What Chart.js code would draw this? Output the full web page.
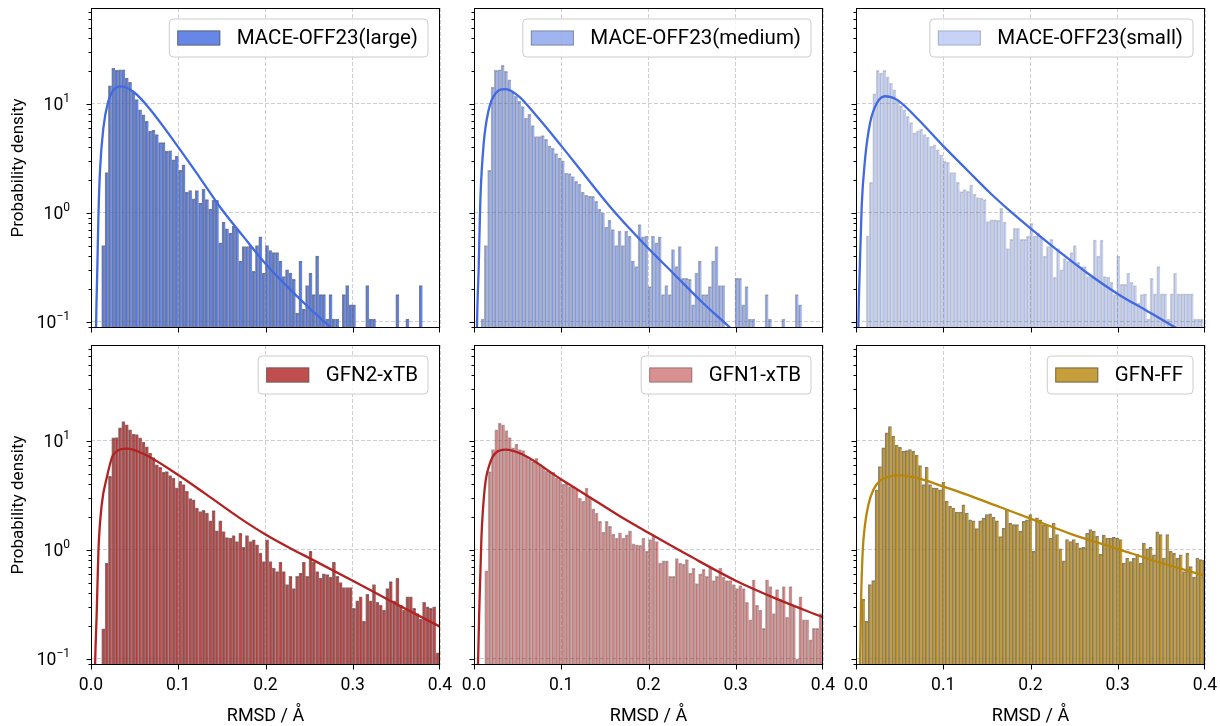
<!DOCTYPE html>
<html>
<head>
<meta charset="utf-8">
<title>RMSD distributions</title>
<script src="https://cdn.jsdelivr.net/npm/chart.js@4.4.1/dist/chart.umd.min.js"></script>
<style>
  html, body { margin: 0; padding: 0; background: #fff; }
  #fig { position: relative; width: 1220px; height: 726px; overflow: hidden; }
  #fig canvas { position: absolute; }
</style>
</head>
<body>
<div id="fig"></div>
<script>
// ---- values ----
const xTicks = [0, 0.1, 0.2, 0.3, 0.4];
const yDecades = [0.1, 1, 10];
const yMinorTicks = [0.09, 0.2, 0.3, 0.4, 0.5, 0.6, 0.7, 0.8, 0.9, 2, 3, 4, 5, 6, 7, 8, 9, 20, 30, 40, 50, 60, 70];
const yMin = 0.0876, yMax = 75.5;
const binWidth = 0.00383;

// MACE-OFF23(large)
const largeStart = 0.0123;
const largeBars = [0.50, 2.34, 14.6, 21.2, 20.2, 20.5, 20.5, 17.2, 15.7, 12.7, 10.9, 8.8, 7.9, 6.9, 5.6, 5.7, 5.2, 4.4, 4.4, 3.66,
  3.7, 3.06, 3.3, 2.45, 2.75, 1.54, 1.6, 1.34, 1.6, 1.22, 1.65, 1.32, 1.08, 1.3, 1.3, 0.53, 0.82, 0.71, 0.65, 0.75,
  0.71, 0.36, 0.49, 0.49, 0.5, 0.29, 0.5, 0.6, 0.28, 0.5, 0.45, 0.43, 0.43, 0.36, 0.26, 0.30, 0.28, 0.245, 0.12, 0.36,
  0.13, 0.215, 0.28, 0.177, 0.40, 0.177, 0.177, 0.106, 0.177, 0.106, 0.106, null, 0.177, 0.215, 0.143, 0.143, null, null, null, 0.215,
  0.106, 0.106, null, null, null, null, null, null, 0.177, null, null, 0.106, null, null, null, 0.215];
const largeCurveX = [0.005, 0.0058, 0.0073, 0.0085, 0.0104, 0.0142, 0.0199, 0.0256, 0.035, 0.05, 0.0676, 0.1, 0.125, 0.15, 0.175, 0.2, 0.225, 0.25, 0.2755, 0.3];
const largeCurveY = [0.02, 0.0876, 0.32, 0.925, 2.5, 6.0, 10.6, 13.3, 14.4, 12.6, 8.9, 4.0, 2.08, 1.07, 0.6, 0.34, 0.21, 0.134, 0.0876, 0.058];

// MACE-OFF23(medium)
const mediumStart = 0.0080;
const mediumBars = [0.106, 0.50, 2.45, 14.2, 20.2, 20.5, 22.5, 19.8, 16.6, 12.7, 11.7, 10.5, 9.4, 7.4, 8.0, 6.3, 5.0, 5.0, 5.1, 4.7,
  4.1, 3.9, 3.48, 3.17, 3.0, 2.3, 2.28, 2.15, 1.94, 1.83, 1.55, 1.45, 1.41, 1.41, 1.27, 1.08, 1.0, 0.74, 0.85, 0.70,
  0.50, 0.68, 0.50, 0.68, 0.61, 0.36, 0.32, 0.78, 0.60, 0.61, 0.21, 0.61, 0.53, 0.60, 0.177, 0.215, 0.177, 0.46, 0.32, 0.49,
  0.25, 0.25, 0.245, 0.143, 0.28, 0.36, 0.177, 0.177, 0.21, 0.36, 0.49, 0.215, 0.215, null, null, null, 0.25, 0.25, 0.143, 0.21,
  0.106, 0.106, null, null, null, 0.177, 0.106, null, null, null, 0.106, null, null, null, 0.177, 0.143];
const mediumCurveX = [0.0025, 0.0034, 0.0054, 0.0073, 0.0111, 0.0169, 0.0246, 0.036, 0.0514, 0.0706, 0.1005, 0.128, 0.155, 0.178, 0.2, 0.23, 0.26, 0.297, 0.32];
const mediumCurveY = [0.02, 0.0876, 0.32, 1.32, 4.3, 8.8, 12.4, 13.6, 11.7, 7.9, 4.06, 2.15, 1.16, 0.72, 0.47, 0.27, 0.155, 0.083, 0.055];

// MACE-OFF23(small)
const smallStart = 0.0115;
const smallBars = [0.615, 1.90, 12.3, 20.2, 19.1, 20.2, 17.6, 15.5, 13.4, 10.9, 9.6, 8.8, 7.65, 6.7, 5.4, 5.65, 5.85, 5.2, 4.95, 4.06,
  4.2, 3.78, 3.4, 2.96, 2.9, 2.34, 2.34, 1.9, 1.56, 1.63, 1.57, 1.8, 1.48, 1.38, 1.36, 1.32, 0.83, 0.86, 0.86, 0.85,
  1.1, 0.82, 0.47, 0.57, 0.72, 0.72, 0.57, 0.57, 0.61, 0.80, 0.61, 0.65, 0.60, 0.40, 0.49, 0.57, 0.256, 0.47, 0.30, 0.38,
  0.36, 0.43, 0.50, 0.35, 0.32, 0.32, 0.26, 0.256, 0.56, 0.40, 0.56, 0.26, 0.256, 0.23, 0.177, 0.40, 0.22, 0.22, 0.28, 0.23,
  0.215, 0.148, 0.177, 0.18, 0.106, 0.25, 0.18, 0.32, 0.18, 0.18, 0.106, 0.18, 0.28, 0.18, 0.18, 0.18, 0.18, 0.18, 0.106, 0.106, 0.106];
const smallCurveX = [0.0018, 0.0027, 0.0046, 0.0065, 0.0103, 0.0161, 0.0238, 0.0333, 0.0467, 0.0697, 0.1004, 0.127, 0.154, 0.177, 0.2, 0.2345, 0.265, 0.3, 0.334, 0.3667, 0.4];
const smallCurveY = [0.02, 0.0876, 0.37, 1.14, 3.06, 6.65, 10.1, 11.7, 10.9, 7.4, 4.06, 2.48, 1.51, 1.03, 0.72, 0.43, 0.28, 0.18, 0.125, 0.0876, 0.06];

// GFN2-xTB
const gfn2Start = 0.0123;
const gfn2Bars = [0.188, 0.755, 4.7, 10.6, 10.7, 13.1, 15.0, 14.0, 12.6, 11.5, 11.4, 10.6, 9.7, 8.8, 7.7, 7.0, 6.0, 5.7, 5.15, 5.2,
  4.8, 4.55, 3.7, 4.24, 3.95, 3.43, 2.94, 2.87, 2.41, 2.24, 2.3, 2.17, 1.84, 2.28, 1.49, 1.84, 1.47, 1.29, 1.28, 1.35,
  1.19, 1.41, 1.05, 1.35, 1.19, 1.23, 1.11, 0.93, 0.78, 1.23, 0.78, 0.68, 0.63, 0.77, 0.63, 0.48, 0.57, 0.44, 0.57, 0.61,
  0.77, 0.57, 0.97, 0.77, 0.63, 0.55, 0.60, 0.59, 0.56, 0.77, 0.57, 0.50, 0.45, 0.45, 0.45, 0.29, 0.34, 0.37, 0.22, 0.39,
  0.34, 0.48, 0.33, 0.31, 0.28, 0.44, 0.51, 0.34, 0.55, 0.31, 0.28, 0.37, 0.37, 0.29, 0.26, 0.23, 0.33, 0.30, 0.29, 0.30, 0.113, 0.25];
const gfn2CurveX = [0.0035, 0.0047, 0.0066, 0.0085, 0.0123, 0.018, 0.0256, 0.041, 0.06, 0.1, 0.1325, 0.1706, 0.2, 0.2316, 0.25, 0.3, 0.346, 0.3994];
const gfn2CurveY = [0.02, 0.088, 0.27, 0.97, 2.59, 4.54, 7.45, 8.45, 7.6, 4.85, 3.2, 1.95, 1.38, 1.0, 0.84, 0.52, 0.33, 0.198];

// GFN1-xTB
const gfn1Start = 0.0123;
const gfn1Bars = [0.64, 5.2, 8.3, 12.6, 14.5, 14.0, 12.4, 10.7, 8.6, 9.3, 8.3, 8.1, 7.2, 6.7, 6.45, 6.9, 6.1, 5.7, 5.3, 5.15,
  5.15, 4.55, 4.4, 4.0, 4.1, 3.8, 3.8, 3.55, 2.98, 2.8, 3.68, 3.0, 2.37, 2.17, 1.82, 1.45, 1.82, 1.64, 1.39, 1.28,
  1.43, 1.28, 1.37, 1.49, 1.13, 1.11, 1.1, 1.28, 0.97, 1.24, 1.37, 1.19, 0.755, 0.79, 0.79, 0.57, 0.57, 0.83, 0.755, 0.74,
  0.81, 0.61, 0.68, 0.49, 0.60, 0.66, 0.57, 0.68, 0.52, 0.57, 0.68, 0.56, 0.52, 0.52, 0.48, 0.44, 0.47, 0.44, 0.33, 0.228,
  0.53, 0.31, 0.28, 0.19, 0.53, 0.46, 0.26, 0.43, 0.35, 0.46, 0.24, 0.46, 0.31, 0.1, 0.37, 0.228, 0.228, 0.149, 0.19, 0.19, 0.26, 0.26];
const gfn1CurveX = [0.0035, 0.0046, 0.0062, 0.0085, 0.0123, 0.0177, 0.0246, 0.0361, 0.0552, 0.1005, 0.128, 0.1663, 0.2, 0.249, 0.3, 0.3448, 0.4];
const gfn1CurveY = [0.02, 0.088, 0.31, 1.28, 3.68, 6.0, 7.7, 8.27, 7.5, 4.39, 3.2, 2.05, 1.43, 0.86, 0.52, 0.36, 0.24];

// GFN-FF
const ffStart = 0.0065;
const ffBars = [0.35, 0.22, 0.48, 0.52, 3.55, 5.8, 8.6, 11.8, 13.5, 11.0, 9.1, 8.7, 8.0, 8.1, 8.3, 8.0, 7.4, 5.9, 3.95, 5.7,
  3.95, 3.7, 3.68, 3.55, 4.17, 2.78, 2.5, 2.41, 2.21, 2.21, 2.58, 2.17, 1.88, 1.84, 1.56, 1.84, 1.95, 2.1, 2.13, 1.98,
  1.84, 1.32, 1.58, 2.33, 1.75, 1.7, 1.7, 1.48, 1.82, 1.88, 2.1, 0.97, 1.96, 1.88, 1.69, 1.69, 1.28, 1.76, 1.38, 1.02,
  0.79, 1.24, 1.19, 1.24, 1.15, 1.04, 1.05, 1.42, 1.53, 1.48, 1.33, 0.91, 1.36, 1.28, 1.28, 1.30, 1.28, 1.24, 0.755, 0.84,
  0.78, 0.84, 0.91, 0.755, 1.15, 1.02, 1.05, 0.90, 1.46, 1.38, 0.84, 1.38, 0.97, 0.93, 0.84, 0.90, 0.63, 0.93, 0.70, 0.56, 0.84, 0.81, 0.8];
const ffCurveX = [0.0035, 0.0046, 0.0057, 0.0077, 0.0103, 0.0142, 0.0199, 0.0276, 0.039, 0.0506, 0.0698, 0.0996, 0.127, 0.1655, 0.2, 0.246, 0.2997, 0.349, 0.3992];
const ffCurveY = [0.02, 0.088, 0.31, 0.97, 1.69, 2.59, 3.55, 4.3, 4.7, 4.8, 4.55, 3.81, 3.2, 2.45, 1.93, 1.4, 1.02, 0.76, 0.58];

const labels = ['MACE-OFF23(large)', 'MACE-OFF23(medium)', 'MACE-OFF23(small)', 'GFN2-xTB', 'GFN1-xTB', 'GFN-FF'];

// ---- layout ----
const colLeft = [91, 474, 856];
const rowTop = [8, 345];
const areaW = 349, areaH = 320;
const yAxisW = 90, xAxisH = 62, padTop = 8, padRight = 30;
const gridColor = '#cfcfcf';

Chart.defaults.font.family = 'Roboto, "DejaVu Sans", sans-serif';
Chart.defaults.color = '#000';

const panels = [
  {label: labels[0], start: largeStart, bars: largeBars, cx: largeCurveX, cy: largeCurveY, fill: 'rgba(65,105,225,0.8)', edge: 'rgba(95,95,95,0.8)', line: '#4169e1'},
  {label: labels[1], start: mediumStart, bars: mediumBars, cx: mediumCurveX, cy: mediumCurveY, fill: 'rgba(65,105,225,0.5)', edge: 'rgba(95,95,95,0.5)', line: '#4169e1'},
  {label: labels[2], start: smallStart, bars: smallBars, cx: smallCurveX, cy: smallCurveY, fill: 'rgba(65,105,225,0.3)', edge: 'rgba(95,95,95,0.3)', line: '#4169e1'},
  {label: labels[3], start: gfn2Start, bars: gfn2Bars, cx: gfn2CurveX, cy: gfn2CurveY, fill: 'rgba(178,34,34,0.8)', edge: 'rgba(95,95,95,0.8)', line: '#b22222'},
  {label: labels[4], start: gfn1Start, bars: gfn1Bars, cx: gfn1CurveX, cy: gfn1CurveY, fill: 'rgba(178,34,34,0.5)', edge: 'rgba(95,95,95,0.5)', line: '#b22222'},
  {label: labels[5], start: ffStart, bars: ffBars, cx: ffCurveX, cy: ffCurveY, fill: 'rgba(184,134,11,0.8)', edge: 'rgba(95,95,95,0.8)', line: '#b8860b'}
];

// frame, tick marks, y labels with superscripts, legend box
const decor = {
  id: 'decor',
  afterDraw(chart, args, o) {
    const {ctx, chartArea: a} = chart;
    const xs = chart.scales.x, ys = chart.scales.y;
    const L = Math.round(a.left) + 0.5, R = Math.round(a.right) - 0.5;
    const T = Math.round(a.top) + 0.5, B = Math.round(a.bottom) - 0.5;
    ctx.save();
    ctx.strokeStyle = '#000';
    ctx.lineWidth = 1;
    ctx.beginPath();
    xTicks.forEach(v => {
      const px = Math.min(Math.round(xs.getPixelForValue(v)) + 0.5, R);
      ctx.moveTo(px, B); ctx.lineTo(px, B + 5);
    });
    yDecades.forEach(v => {
      const py = Math.round(ys.getPixelForValue(v)) + 0.5;
      ctx.moveTo(L, py); ctx.lineTo(L - 5, py);
    });
    yMinorTicks.forEach(v => {
      const py = Math.round(ys.getPixelForValue(v)) + 0.5;
      ctx.moveTo(L, py); ctx.lineTo(L - 3, py);
    });
    ctx.stroke();
    ctx.strokeRect(L, T, R - L, B - T);

    ctx.fillStyle = '#000';
    if (o.yLabels) {
      yDecades.forEach(v => {
        const py = ys.getPixelForValue(v);
        const exp = String(Math.round(Math.log10(v))).replace('-', '\u2212');
        ctx.font = '12px Roboto';
        const ew = ctx.measureText(exp).width;
        ctx.font = '17.5px Roboto';
        const bw = ctx.measureText('10').width;
        const right = a.left - 21;
        ctx.textAlign = 'left';
        ctx.textBaseline = 'alphabetic';
        ctx.fillText('10', right - ew - bw, py + 6.5);
        ctx.font = '12px Roboto';
        ctx.fillText(exp, right - ew, py - 1.5);
      });
    }

    // legend
    ctx.font = '20.5px Roboto';
    const tw = ctx.measureText(o.label).width;
    const bw = 8 + 43 + 16.5 + tw + 10, bh = 38;
    const bx = a.right - 12 - bw, by = a.top + 11;
    ctx.beginPath();
    ctx.roundRect(bx, by, bw, bh, 4);
    ctx.fillStyle = 'rgba(255,255,255,0.8)';
    ctx.fill();
    ctx.strokeStyle = '#cccccc';
    ctx.stroke();
    ctx.fillStyle = o.fill;
    ctx.fillRect(bx + 8, by + 11.5, 43, 15);
    ctx.strokeStyle = o.edge;
    ctx.strokeRect(bx + 8.5, by + 12, 42, 14);
    ctx.fillStyle = '#000';
    ctx.textAlign = 'left';
    ctx.textBaseline = 'middle';
    ctx.fillText(o.label, bx + 8 + 43 + 16.5, by + bh / 2 + 1);
    ctx.restore();
  }
};

const fig = document.getElementById('fig');

panels.forEach((p, k) => {
  const row = Math.floor(k / 3), col = k % 3;
  const canvas = document.createElement('canvas');
  canvas.width = yAxisW + areaW + padRight;
  canvas.height = padTop + areaH + xAxisH;
  canvas.style.left = (colLeft[col] - yAxisW) + 'px';
  canvas.style.top = (rowTop[row] - padTop) + 'px';
  fig.appendChild(canvas);

  const barData = p.bars.map((v, i) => ({x: p.start + (i + 0.5) * binWidth, y: v}));
  const curveData = p.cx.map((x, i) => ({x: x, y: p.cy[i]}));

  new Chart(canvas, {
    type: 'bar',
    data: {
      datasets: [
        {type: 'line', data: curveData, borderColor: p.line, borderWidth: 2.3, pointRadius: 0,
         cubicInterpolationMode: 'monotone', order: 0},
        {type: 'bar', data: barData, backgroundColor: p.fill, borderColor: p.edge,
         borderWidth: {left: 1.2, top: 1, right: 0, bottom: 0}, borderSkipped: false,
         barPercentage: 1, categoryPercentage: 1, order: 1}
      ]
    },
    options: {
      responsive: false,
      animation: false,
      events: [],
      layout: {padding: {top: padTop, right: padRight, left: 0, bottom: 0}},
      plugins: {
        legend: {display: false},
        tooltip: {enabled: false},
        decor: {label: p.label, fill: p.fill, edge: p.edge, yLabels: col === 0}
      },
      scales: {
        x: {
          type: 'linear', min: 0, max: 0.4, offset: false, z: 1,
          afterBuildTicks: s => { s.ticks = xTicks.map(v => ({value: v})); },
          afterFit: s => { s.height = xAxisH; s.paddingLeft = 0; s.paddingRight = 0; },
          grid: {color: gridColor, lineWidth: 1, drawTicks: false, offset: false},
          border: {display: false, dash: [4, 2]},
          ticks: {display: row === 1, padding: 10, font: {size: 17.5}, maxRotation: 0, autoSkip: false,
                  callback: v => v.toFixed(1)},
          title: {display: row === 1, text: 'RMSD / Å', font: {size: 18}, padding: {top: 0, bottom: 0}}
        },
        y: {
          type: 'logarithmic', min: yMin, max: yMax, z: 1,
          afterBuildTicks: s => { s.ticks = yDecades.map(v => ({value: v})); },
          afterFit: s => { s.width = yAxisW; },
          grid: {color: gridColor, lineWidth: 1, drawTicks: false},
          border: {display: false, dash: [4, 2]},
          ticks: {display: false},
          title: {display: col === 0, text: 'Probability density', font: {size: 17}, padding: {top: 8, bottom: 0}}
        }
      }
    },
    plugins: [decor]
  });
});
</script>
</body>
</html>
